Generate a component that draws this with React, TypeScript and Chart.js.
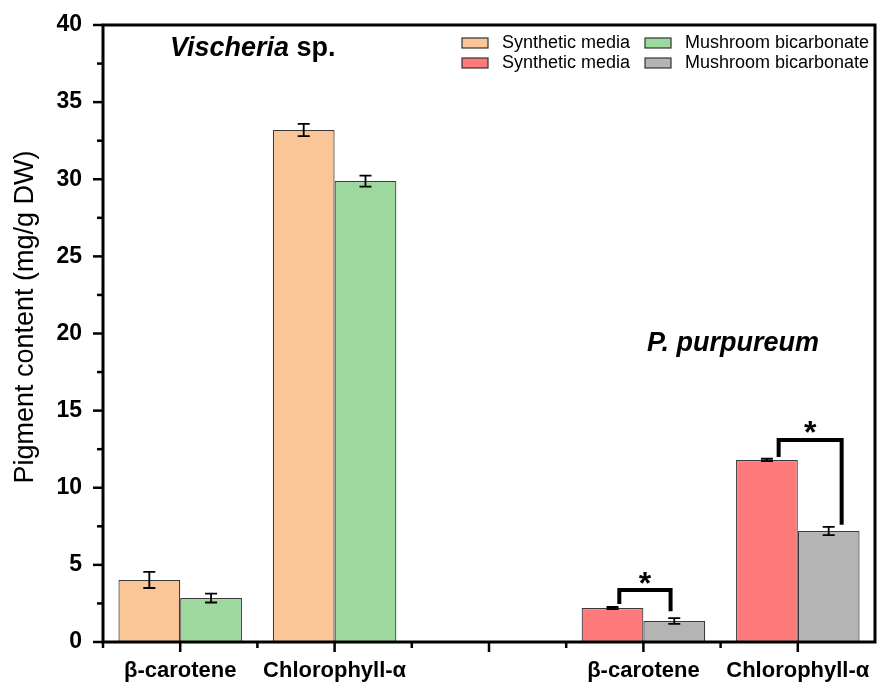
import React, { useEffect, useRef } from 'react';
import { Chart, registerables } from 'chart.js';

Chart.register(...registerables);

// ---------- data ----------
const categories = ['β-carotene', 'Chlorophyll-α', '', 'β-carotene', 'Chlorophyll-α'];
const seriesLabels = ['Synthetic media', 'Mushroom bicarbonate', 'Synthetic media', 'Mushroom bicarbonate'];

const vischeriaSynthetic = [4.02, 33.19, null, null, null];
const vischeriaSyntheticErr = [0.52, 0.4, null, null, null];
const vischeriaMushroom = [2.85, 29.88, null, null, null];
const vischeriaMushroomErr = [0.29, 0.36, null, null, null];
const purpureumSynthetic = [null, null, null, 2.2, 11.8];
const purpureumSyntheticErr = [null, null, null, 0.07, 0.08];
const purpureumMushroom = [null, null, null, 1.36, 7.2];
const purpureumMushroomErr = [null, null, null, 0.19, 0.27];

const yMin = 0;
const yMax = 40;
const yStep = 5;

// significance brackets (category index, bracket level, left leg end, right leg end)
const sigCategory = [3, 4];
const sigBracketY = [3.37, 13.1];
const sigLeftLegEnd = [2.46, 12.0];
const sigRightLegEnd = [2.0, 7.6];
const sigText = ['*', '*'];

const panelTitles = ['Vischeria', 'P. purpureum'];
const yTitle = 'Pigment content (mg/g DW)';

// ---------- styles ----------
const FONT = '"Liberation Sans", Arial, Helvetica, sans-serif';
const colors = ['#FAC597', '#9DD89E', '#FF7B7B', '#B4B4B4'];
const errors = [vischeriaSyntheticErr, vischeriaMushroomErr, purpureumSyntheticErr, purpureumMushroomErr];
const legOffsets = [[0.11, -0.06], [0.19, 0.21]];

const decorPlugin = {
  id: 'decor',
  afterDatasetsDraw(chart: any) {
    const ctx = chart.ctx as CanvasRenderingContext2D;
    const { left, right, top, bottom } = chart.chartArea;
    const xs = chart.scales.x;
    const ys = chart.scales.y;
    ctx.save();

    // error bars
    ctx.strokeStyle = '#000';
    ctx.lineWidth = 1.8;
    chart.data.datasets.forEach((ds: any, i: number) => {
      const meta = chart.getDatasetMeta(i);
      ds.data.forEach((v: number | null, j: number) => {
        const e = errors[i][j];
        if (v == null || e == null) return;
        const bar = meta.data[j];
        const x = bar.x;
        const y1 = ys.getPixelForValue(v + e);
        const y2 = ys.getPixelForValue(v - e);
        ctx.beginPath();
        ctx.moveTo(x, y1); ctx.lineTo(x, y2);
        ctx.moveTo(x - 6, y1); ctx.lineTo(x + 6, y1);
        ctx.moveTo(x - 6, y2); ctx.lineTo(x + 6, y2);
        ctx.stroke();
      });
    });

    // significance brackets
    ctx.lineWidth = 4;
    ctx.lineJoin = 'miter';
    ctx.lineCap = 'butt';
    sigCategory.forEach((c, k) => {
      const lb = chart.getDatasetMeta(2).data[c];
      const rb = chart.getDatasetMeta(3).data[c];
      const lx = lb.x + legOffsets[k][0] * lb.width;
      const rx = rb.x + legOffsets[k][1] * rb.width;
      const by = ys.getPixelForValue(sigBracketY[k]);
      ctx.beginPath();
      ctx.moveTo(lx, ys.getPixelForValue(sigLeftLegEnd[k]));
      ctx.lineTo(lx, by);
      ctx.lineTo(rx, by);
      ctx.lineTo(rx, ys.getPixelForValue(sigRightLegEnd[k]));
      ctx.stroke();
      ctx.font = `bold 32px ${FONT}`;
      ctx.fillStyle = '#000';
      ctx.textAlign = 'center';
      ctx.textBaseline = 'alphabetic';
      const m = ctx.measureText(sigText[k]);
      const cy = by - 12.5;
      const base = cy + (m.actualBoundingBoxAscent - m.actualBoundingBoxDescent) / 2;
      ctx.fillText(sigText[k], (lx + rx) / 2, base);
    });

    // frame
    ctx.strokeStyle = '#000';
    ctx.lineWidth = 3;
    ctx.lineCap = 'square';
    ctx.strokeRect(left, top, right - left, bottom - top);

    // y ticks
    ctx.lineWidth = 2.5;
    ctx.lineCap = 'butt';
    for (let v = yMin; v <= yMax + 1e-9; v += yStep / 2) {
      const y = ys.getPixelForValue(v);
      const major = Math.abs(v / yStep - Math.round(v / yStep)) < 1e-6;
      ctx.beginPath();
      ctx.moveTo(left, y);
      ctx.lineTo(left - (major ? 10 : 6), y);
      ctx.stroke();
    }
    // x ticks
    const n = categories.length;
    const step = xs.getPixelForValue(1) - xs.getPixelForValue(0);
    for (let i = 0; i < n; i++) {
      const x = xs.getPixelForValue(i);
      ctx.beginPath();
      ctx.moveTo(x, bottom);
      ctx.lineTo(x, bottom + 10);
      ctx.stroke();
      const xm = x - step / 2;
      ctx.beginPath();
      ctx.moveTo(xm, bottom);
      ctx.lineTo(xm, bottom + 6);
      ctx.stroke();
    }

    // panel titles
    ctx.fillStyle = '#000';
    ctx.textAlign = 'left';
    ctx.textBaseline = 'alphabetic';
    ctx.font = `italic bold 27px ${FONT}`;
    ctx.fillText(panelTitles[0], 170, 56);
    const w0 = ctx.measureText(panelTitles[0]).width;
    ctx.font = `bold 27px ${FONT}`;
    ctx.fillText(' sp.', 170 + w0, 56);
    ctx.font = `italic bold 27px ${FONT}`;
    ctx.fillText(panelTitles[1], 647, 351);

    // legend
    const colX = [462, 645];
    const rowY = [38, 58];
    ctx.font = `18px ${FONT}`;
    chart.data.datasets.forEach((ds: any, i: number) => {
      const col = i % 2;
      const row = Math.floor(i / 2);
      const bx = colX[col];
      const byy = rowY[row];
      ctx.fillStyle = ds.backgroundColor;
      ctx.fillRect(bx, byy, 26, 10);
      ctx.strokeStyle = '#333';
      ctx.lineWidth = 1.2;
      ctx.strokeRect(bx, byy, 26, 10);
      ctx.fillStyle = '#000';
      ctx.fillText(ds.label, bx + 40, byy + 9.5);
    });

    // y title
    ctx.save();
    ctx.translate(32.5, 317);
    ctx.rotate(-Math.PI / 2);
    ctx.font = `27px ${FONT}`;
    ctx.textAlign = 'center';
    ctx.textBaseline = 'alphabetic';
    ctx.fillText(yTitle, 0, 0);
    ctx.restore();

    ctx.restore();
  },
};

export default function App() {
  const ref = useRef<HTMLCanvasElement>(null);
  useEffect(() => {
    const datasetsData = [vischeriaSynthetic, vischeriaMushroom, purpureumSynthetic, purpureumMushroom];
    const stacks = ['A', 'B', 'A', 'B'];
    const chart = new Chart(ref.current as HTMLCanvasElement, {
      type: 'bar',
      data: {
        labels: categories,
        datasets: datasetsData.map((d, i) => ({
          label: seriesLabels[i],
          data: d,
          backgroundColor: colors[i],
          borderColor: '#3a3a3a',
          borderWidth: 1.2,
          borderSkipped: false,
          stack: stacks[i],
          barPercentage: 1,
          categoryPercentage: 0.8,
        })),
      },
      options: {
        responsive: false,
        animation: false,
        devicePixelRatio: 1,
        layout: { padding: { top: 25, right: 2, left: 0, bottom: 0 } },
        plugins: { legend: { display: false }, tooltip: { enabled: false }, title: { display: false } },
        scales: {
          x: {
            grid: { display: false },
            border: { display: false },
            ticks: {
              autoSkip: false,
              maxRotation: 0,
              padding: 8,
              color: '#000',
              font: { family: FONT, size: 22, weight: 'bold' },
            },
            afterFit: (s: any) => {
              s.height = 40;
              s.paddingLeft = 0;
              s.paddingRight = 0;
            },
          },
          y: {
            stacked: false,
            min: yMin,
            max: yMax,
            grid: { display: false },
            border: { display: false },
            ticks: {
              stepSize: yStep,
              padding: 13,
              color: '#000',
              font: { family: FONT, size: 23, weight: 'bold' },
            },
            afterFit: (s: any) => {
              s.width = 103;
              s.paddingTop = 0;
              s.paddingBottom = 0;
            },
          },
        },
      },
      plugins: [decorPlugin],
    } as any);
    return () => chart.destroy();
  }, []);
  return (
    <canvas
      ref={ref}
      width={877}
      height={682}
      style={{ position: 'fixed', left: 0, top: 0, width: 877, height: 682, background: '#fff' }}
    />
  );
}
